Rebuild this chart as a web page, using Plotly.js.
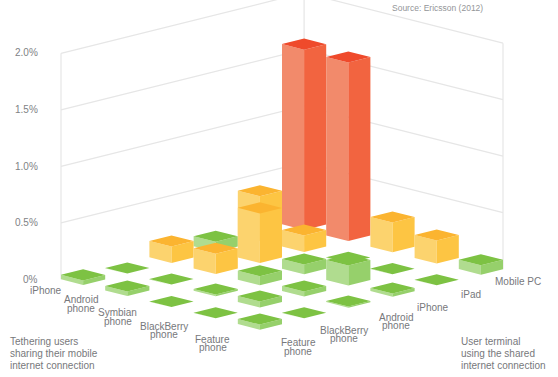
<!DOCTYPE html>
<html><head><meta charset="utf-8">
<script src="https://cdn.plot.ly/plotly-3.0.1.min.js"></script>
<style>html,body{margin:0;padding:0;background:#fff;overflow:hidden}#c{width:558px;height:377px}</style>
</head><body><div id="c"></div>
<script>
// Category labels (each entry = lines of the label)
var tetheringUsers = [['iPhone'],['Android','phone'],['Symbian','phone'],['BlackBerry','phone'],['Feature','phone']];
var userTerminals = [['Feature','phone'],['BlackBerry','phone'],['Android','phone'],['iPhone'],['iPad'],['Mobile PC']];
// Share of users (%): rows = tethering device, columns = user terminal
var iphoneRow     = [0.040, 0.003, 0.145, 0.090, 0.395, 1.595];
var androidRow    = [0.040, 0.005, 0.180, 0.440, 0.146, 1.580];
var symbianRow    = [0.002, 0.015, 0.080, 0.086, 0.003, 0.263];
var blackberryRow = [0.002, 0.053, 0.044, 0.177, 0.003, 0.203];
var featureRow    = [0.045, 0.004, 0.010, 0.028, 0.003, 0.083];
var values = [iphoneRow, androidRow, symbianRow, blackberryRow, featureRow];
// Colour tier per bar
var tierIphone     = ['g','g','o','g','o','r'];
var tierAndroid    = ['g','g','o','o','o','r'];
var tierSymbian    = ['g','g','g','g','g','o'];
var tierBlackberry = ['g','g','g','g','g','o'];
var tierFeature    = ['g','g','g','g','g','g'];
var tiers = [tierIphone, tierAndroid, tierSymbian, tierBlackberry, tierFeature];
var palette = {
  r:{top:'#EF4A2B',left:'#F28A6B',right:'#F26440'},
  o:{top:'#FBB430',left:'#FCD36E',right:'#FDC543'},
  g:{top:'#7DC243',left:'#B0DC8F',right:'#96D06B'}
};
var yTicks = [0,0.5,1,1.5,2];
var yTickText = ['0%','0.5%','1.0%','1.5%','2.0%'];
var yTickPy = [279.5,222,166,109.5,52.5];
var leftX = [46,81,117.5,163.5,212.5];
var leftY = [[290],[299.5,308],[312.5,321],[326,334.5],[339,347.5]];
var rightX = [298,344,396,433,471,518];
var rightY = [[342.5,351],[330,338.5],[317,325.5],[307.5],[294.5],[281.5]];
var noteLeft = ['Tethering users','sharing their mobile','internet connection'];
var noteRight = ['User terminal','using the shared','internet connection'];
var noteY = [341.5,353.5,365.5];
var W=558,H=377;
var barW=0.5, uMax=4.5, vMax=5.5, zMax=2;
var FONT='Liberation Sans, Arial, Helvetica, sans-serif';

// oblique projection of (u, v, percent) to the plot plane
function P(u,v,w){return [61+44.2*(u+v), 279.3+11.2*u-11*v-113*w];}
var traces=[];
var wallColor='#E6E6E6';
function poly(points,opts){
  var xs=[],ys=[];points.forEach(function(p){var q=P(p[0],p[1],p[2]);xs.push(q[0]);ys.push(q[1]);});
  traces.push(Object.assign({type:'scatter',x:xs,y:ys,hoverinfo:'skip',showlegend:false},opts));
}
function wall(points){poly(points,{mode:'lines',line:{color:wallColor,width:1.2}});}
yTicks.forEach(function(t){ if(t>0) wall([[0,0,t],[0,vMax,t],[uMax,vMax,t]]); });
wall([[0,0,0],[0,0,zMax]]);
wall([[0,vMax,0],[0,vMax,zMax+0.1]]);
wall([[uMax,vMax,0],[uMax,vMax,zMax]]);
function face(points,col){poly(points.concat([points[0]]),{mode:'lines',line:{width:0,color:col},fill:'toself',fillcolor:col});}
values.forEach(function(row,a){
  for(var b=row.length-1;b>=0;b--){
    var h=row[b],c=palette[tiers[a][b]],u0=a,u1=a+barW,v0=b,v1=b+barW;
    face([[u0,v0,0],[u1,v0,0],[u1,v0,h],[u0,v0,h]],c.left);
    face([[u1,v0,0],[u1,v1,0],[u1,v1,h],[u1,v0,h]],c.right);
    face([[u0,v0,h],[u1,v0,h],[u1,v1,h],[u0,v1,h]],c.top);
  }
});
var ann=[];
function txt(s,px,py,opt){ann.push(Object.assign({text:s,x:px,y:py,xref:'x',yref:'y',showarrow:false,xanchor:'center',yanchor:'middle',borderpad:0,font:{family:FONT,size:10,color:'#77787B'}},opt||{}));}
yTicks.forEach(function(t,i){txt(yTickText[i],38.5,yTickPy[i],{xanchor:'right',font:{family:FONT,size:10,color:'#808285'}});});
tetheringUsers.forEach(function(lines,i){lines.forEach(function(s,k){txt(s,leftX[i],leftY[i][k]);});});
userTerminals.forEach(function(lines,i){lines.forEach(function(s,k){txt(s,rightX[i],rightY[i][k]);});});
noteLeft.forEach(function(s,k){txt(s,9,noteY[k],{xanchor:'left'});});
noteRight.forEach(function(s,k){txt(s,460,noteY[k],{xanchor:'left'});});
txt('Source: Ericsson (2012)',390.5,8,{xanchor:'left',font:{family:FONT,size:8.5,color:'#939598'}});
var hidden={visible:false,fixedrange:true};
var layout={width:W,height:H,margin:{l:0,r:0,t:0,b:0},paper_bgcolor:'#fff',plot_bgcolor:'#fff',showlegend:false,annotations:ann,
  xaxis:Object.assign({range:[0,W]},hidden),yaxis:Object.assign({range:[H,0]},hidden)};
Plotly.newPlot('c',traces,layout,{displayModeBar:false,staticPlot:true});
</script></body></html>
